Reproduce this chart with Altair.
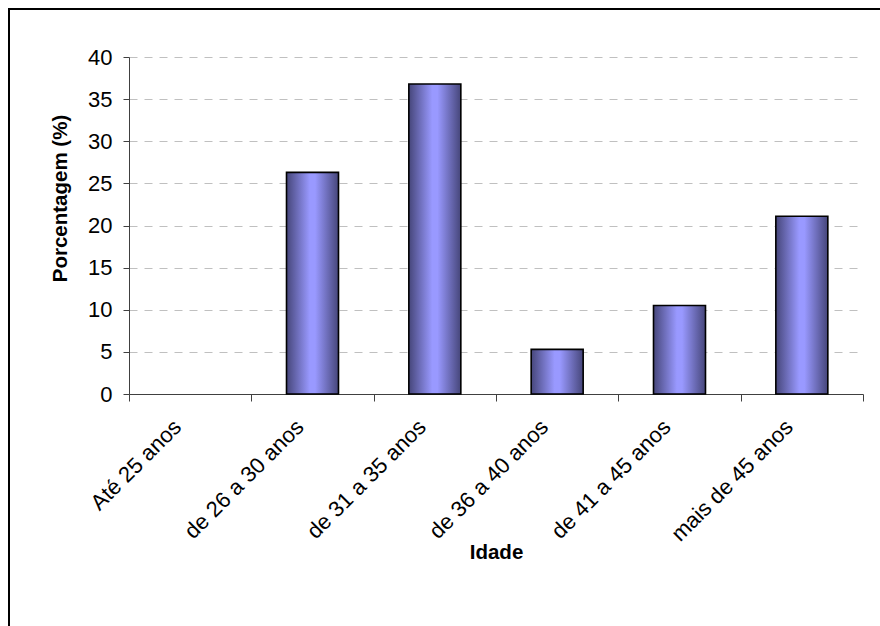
import altair as alt
import pandas as pd

categories = ["Até 25 anos", "de 26 a 30 anos", "de 31 a 35 anos",
              "de 36 a 40 anos", "de 41 a 45 anos", "mais de 45 anos"]
values = [0, 26.3, 36.8, 5.3, 10.5, 21.1]
y_ticks = [0, 5, 10, 15, 20, 25, 30, 35, 40]

df = pd.DataFrame({"Idade": categories, "Porcentagem": values})

W, H = 734, 337
FONT = "Liberation Sans"

grad = alt.Gradient(
    gradient="linear",
    stops=[
        alt.GradientStop(color="#46467a", offset=0),
        alt.GradientStop(color="#9999ff", offset=0.45),
        alt.GradientStop(color="#9999ff", offset=0.55),
        alt.GradientStop(color="#46467a", offset=1),
    ],
    x1=0, x2=1, y1=0, y2=0,
)

x_enc = alt.X(
    "Idade:N", sort=categories,
    scale=alt.Scale(domain=categories, paddingInner=0, paddingOuter=0),
    axis=alt.Axis(
        title="Idade", titleFont=FONT, titleFontSize=20.5, titleFontWeight="bold",
        titleColor="black", titleY=158, titleBaseline="middle",
        labelFont=FONT, labelFontSize=22, labelColor="black",
        labelAngle=-45, labelAlign="right", labelBaseline="middle",
        labelPadding=22, labelOffset=-13, labelLimit=400,
        tickBand="extent", tickSize=7, tickColor="#404040",
        domainColor="#404040", grid=False,
    ),
)
y_enc = alt.Y(
    "Porcentagem:Q",
    scale=alt.Scale(domain=[0, 40], nice=False),
    axis=alt.Axis(
        values=y_ticks, title="Porcentagem (%)", titleFont=FONT,
        titleFontSize=20.5, titleFontWeight="bold", titleColor="black",
        titleX=-69, titleY=141, titleAngle=-90, titleBaseline="middle",
        titleAlign="center",
        labelFont=FONT, labelFontSize=22, labelColor="black", labelPadding=11,
        tickSize=6, tickColor="#404040", domainColor="#404040",
        grid=True, gridColor="#c0c0c0", gridDash=[8, 7], gridWidth=1,
    ),
)

bars = alt.Chart(df).transform_filter("datum.Porcentagem > 0").mark_bar(
    fill=grad, stroke="black", strokeWidth=1.6,
    width=alt.RelativeBandSize(0.425),
).encode(x=x_enc, y=y_enc)

frame_left = alt.Chart(df).mark_rule(color="black", strokeWidth=2).encode(
    x=alt.value(-120), y=alt.value(-48), y2=alt.value(700)
)
frame_top = alt.Chart(df).mark_rule(color="black", strokeWidth=2).encode(
    x=alt.value(-121), x2=alt.value(900), y=alt.value(-48)
)

chart = alt.layer(bars, frame_left, frame_top).properties(
    width=W, height=H,
    autosize=alt.AutoSizeParams(type="none"),
    padding={"left": 129, "top": 57, "right": 17, "bottom": 232},
    background="white",
).configure_view(stroke=None)

chart.save("out.html", embed_options={"renderer": "svg", "actions": False})
